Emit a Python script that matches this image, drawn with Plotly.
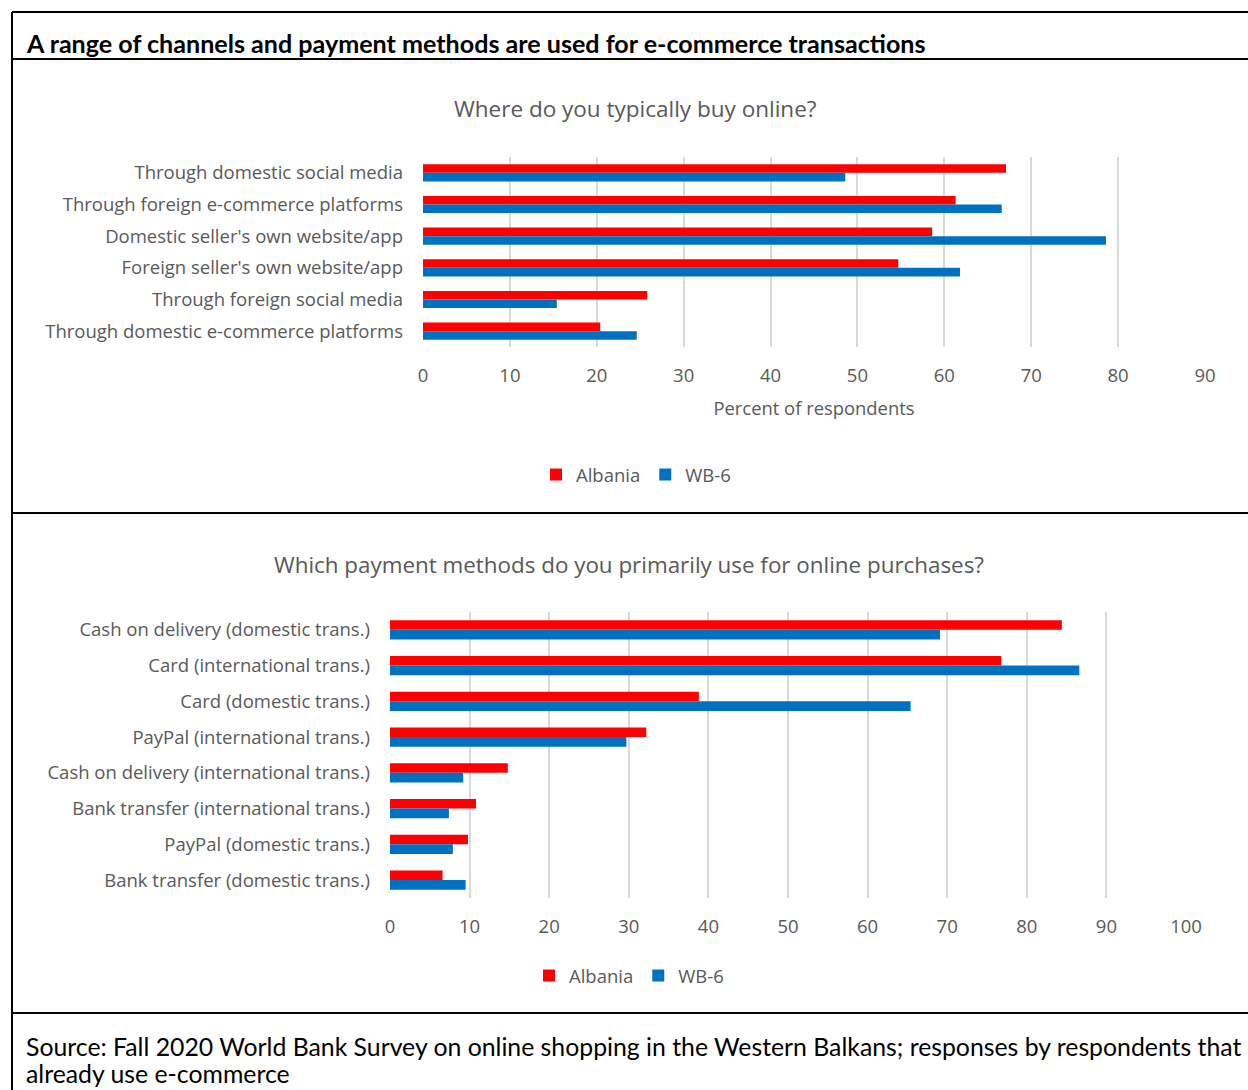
import plotly.graph_objects as go

# ---- Data ----
channels = ["Through domestic social media", "Through foreign e-commerce platforms",
            "Domestic seller's own website/app", "Foreign seller's own website/app",
            "Through foreign social media", "Through domestic e-commerce platforms"]
channels_albania = [67.1, 61.3, 58.6, 54.7, 25.8, 20.4]
channels_wb6 = [48.6, 66.6, 78.6, 61.8, 15.4, 24.6]

payments = ["Cash on delivery (domestic trans.)", "Card (international trans.)",
            "Card (domestic trans.)", "PayPal (international trans.)",
            "Cash on delivery (international trans.)", "Bank transfer (international trans.)",
            "PayPal (domestic trans.)", "Bank transfer (domestic trans.)"]
payments_albania = [84.4, 76.8, 38.8, 32.2, 14.8, 10.8, 9.8, 6.6]
payments_wb6 = [69.1, 86.6, 65.4, 29.7, 9.2, 7.4, 7.9, 9.5]

series_names = ["Albania", "WB-6"]
series_colors = ["#FF0000", "#0070C0"]

FONT = "Open Sans"
HEAD_FONT = "Lato"
GRAY = "#595959"
W, H = 1248, 1090

def py(px):
    return 1 - px / H

def pxx(px):
    return px / W

fig = go.Figure()
for name, vals, col in zip(series_names, [channels_albania, channels_wb6], series_colors):
    fig.add_trace(go.Bar(y=channels, x=vals, name=name, orientation="h", marker_color=col,
                         marker_line_width=0, xaxis="x", yaxis="y", legend="legend"))
for name, vals, col in zip(series_names, [payments_albania, payments_wb6], series_colors):
    fig.add_trace(go.Bar(y=payments, x=vals, name=name, orientation="h", marker_color=col,
                         marker_line_width=0, xaxis="x2", yaxis="y2", legend="legend2"))

tickfont = dict(family=FONT, size=18.5, color=GRAY)
axis_common = dict(showgrid=True, gridcolor="#D9D9D9", gridwidth=1.5, zeroline=False,
                   tickfont=tickfont, ticks="", showline=False, ticklabelstandoff=15,
                   automargin=False)
yaxis_common = dict(showgrid=False, zeroline=False, ticks="", autorange="reversed",
                    tickfont=tickfont, ticklabelstandoff=19, automargin=False)

fig.update_layout(
    width=W, height=H, margin=dict(l=0, r=0, t=0, b=0, pad=0, autoexpand=False),
    paper_bgcolor="white", plot_bgcolor="white",
    barmode="group", bargap=0.46, bargroupgap=0,
    font=dict(family=FONT, color=GRAY),
    xaxis=dict(domain=[pxx(423), pxx(1205)], range=[0, 90], dtick=10, anchor="y",
               title=dict(text="Percent of respondents", font=dict(family=FONT, size=18.4, color=GRAY), standoff=16),
               **axis_common),
    yaxis=dict(domain=[py(347), py(157)], anchor="x", **yaxis_common),
    xaxis2=dict(domain=[pxx(390), pxx(1186)], range=[0, 100], dtick=10, anchor="y2", **axis_common),
    yaxis2=dict(domain=[py(898), py(612)], anchor="x2", **yaxis_common),
    legend=dict(orientation="h", x=pxx(636), y=py(475), xanchor="center", yanchor="middle",
                font=dict(family=FONT, size=18.5, color=GRAY), itemwidth=30, traceorder="normal"),
    legend2=dict(orientation="h", x=pxx(629), y=py(976), xanchor="center", yanchor="middle",
                 font=dict(family=FONT, size=18.5, color=GRAY), itemwidth=30, traceorder="normal"),
    showlegend=True,
)

# Box lines
lines = [
    (12, 12, W, 12),
    (12, 59, W, 59),
    (12, 513, W, 513),
    (12, 1013, W, 1013),
    (12, 12, 12, H),
]
for x0, y0, x1, y1 in lines:
    fig.add_shape(type="line", xref="paper", yref="paper", x0=pxx(x0), y0=py(y0),
                  x1=pxx(x1), y1=py(y1), line=dict(color="black", width=2))

annotations = [
    dict(text="<b>A range of channels and payment methods are used for e-commerce transactions</b>",
         x=pxx(24), y=py(43), xanchor="left", yanchor="middle",
         font=dict(family=HEAD_FONT, size=25.1, color="black")),
    dict(text="Where do you typically buy online?", x=pxx(635), y=py(109), xanchor="center",
         yanchor="middle", font=dict(family=FONT, size=22.5, color=GRAY)),
    dict(text="Which payment methods do you primarily use for online purchases?", x=pxx(628.5),
         y=py(564), xanchor="center", yanchor="middle", font=dict(family=FONT, size=22.4, color=GRAY)),
    dict(text="Source: Fall 2020 World Bank Survey on online shopping in the Western Balkans; responses by respondents that",
         x=pxx(24), y=py(1046), xanchor="left", yanchor="middle",
         font=dict(family=HEAD_FONT, size=24.8, color="black")),
    dict(text="already use e-commerce", x=pxx(24), y=0, xanchor="left", yanchor="bottom",
         font=dict(family=HEAD_FONT, size=24.8, color="black")),
]
for a in annotations:
    fig.add_annotation(xref="paper", yref="paper", showarrow=False, **a)

fig.write_html("out.html")
